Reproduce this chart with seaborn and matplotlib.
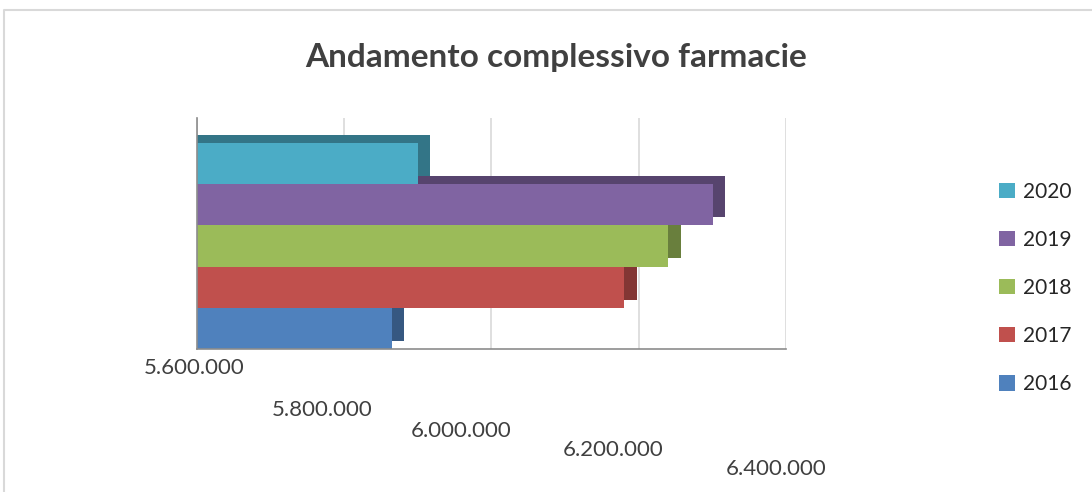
import matplotlib
matplotlib.use("Agg")
import matplotlib.pyplot as plt
import matplotlib.patheffects as pe
from matplotlib.transforms import ScaledTranslation
from matplotlib.ticker import FuncFormatter, FixedLocator
from matplotlib.lines import Line2D
from matplotlib.patches import Patch
import seaborn as sns
import pandas as pd
import numpy as np

# ---- data ----
years = ["2016", "2017", "2018", "2019", "2020"]
values = [5865000, 6180000, 6240000, 6300000, 5900000]
colors = ["#4F81BD", "#C0504D", "#9BBB59", "#8064A2", "#4BACC6"]
ticks = [5600000, 5800000, 6000000, 6200000, 6400000]
title = "Andamento complessivo farmacie"

sns.set_theme(style="white")
plt.rcParams["font.family"] = ["Lato", "DejaVu Sans"]

fig = plt.figure(figsize=(10.92, 4.92), dpi=100)
ax = fig.add_axes([0.18, 0.29, 0.54, 0.47])

df = pd.DataFrame({"year": years, "value": values})
order = years[::-1]  # 2020 on top
sns.barplot(data=df, y="year", x="value", hue="year", order=order,
            hue_order=years, palette=colors, dodge=False, width=1.0,
            orient="h", ax=ax, legend=False, saturation=1)

# pseudo-3D extrusion
for p in ax.patches:
    fc = np.array(p.get_facecolor()[:3])
    dark = tuple(fc * 0.68)
    p.set_edgecolor("none")
    p.set_path_effects([pe.SimplePatchShadow(offset=(9, 6), shadow_rgbFace=dark, alpha=1.0),
                        pe.Normal()])

ax.set_xlim(ticks[0], ticks[-1])
ax.set_ylim(len(years) - 0.5, -1.1)
ax.xaxis.set_major_locator(FixedLocator(ticks))
ax.xaxis.set_major_formatter(FuncFormatter(lambda v, _: f"{int(v):,}".replace(",", ".")))
ax.set_yticks([])
ax.set_xlabel("")
ax.set_ylabel("")
ax.grid(False)
ax.xaxis.grid(True, color="#d9d9d9", lw=1.2)
ax.set_axisbelow(True)
for s in ["top", "right"]:
    ax.spines[s].set_visible(False)
for s in ["left", "bottom"]:
    ax.spines[s].set_color("#8c8c8c")
    ax.spines[s].set_linewidth(1.2)
ax.tick_params(axis="x", length=0, labelsize=16, labelcolor="#404040", pad=6)

# staggered tick labels (mimic perspective)
dx_px = [-2, -22, -30, -26, -10]
dy_px = [0, 42, 63, 82, 101]
for lab, dx, dy in zip(ax.get_xticklabels(), dx_px, dy_px):
    lab.set_transform(lab.get_transform() + ScaledTranslation(dx / 100, -dy / 100, fig.dpi_scale_trans))

# title
fig.text(0.509, 1 - 57 / 492, title, ha="center", va="center",
         fontsize=24, fontweight="bold", color="#404040")

# legend
handles = [Patch(facecolor=c, edgecolor="none", label=y) for y, c in zip(years, colors)][::-1]
fig.legend(handles=handles, loc="center left", bbox_to_anchor=(0.898, 1 - 288 / 492),
           frameon=False, fontsize=15, handlelength=0.75, handleheight=0.75,
           handletextpad=0.4, labelspacing=1.35)

# chart frame border (partially visible)
fig.add_artist(Line2D([0.004, 0.004, 1.0], [0.0, 1 - 10 / 492, 1 - 10 / 492],
                      transform=fig.transFigure, color="#d9d9d9", lw=1.5))

fig.savefig("out.png", dpi=100)
